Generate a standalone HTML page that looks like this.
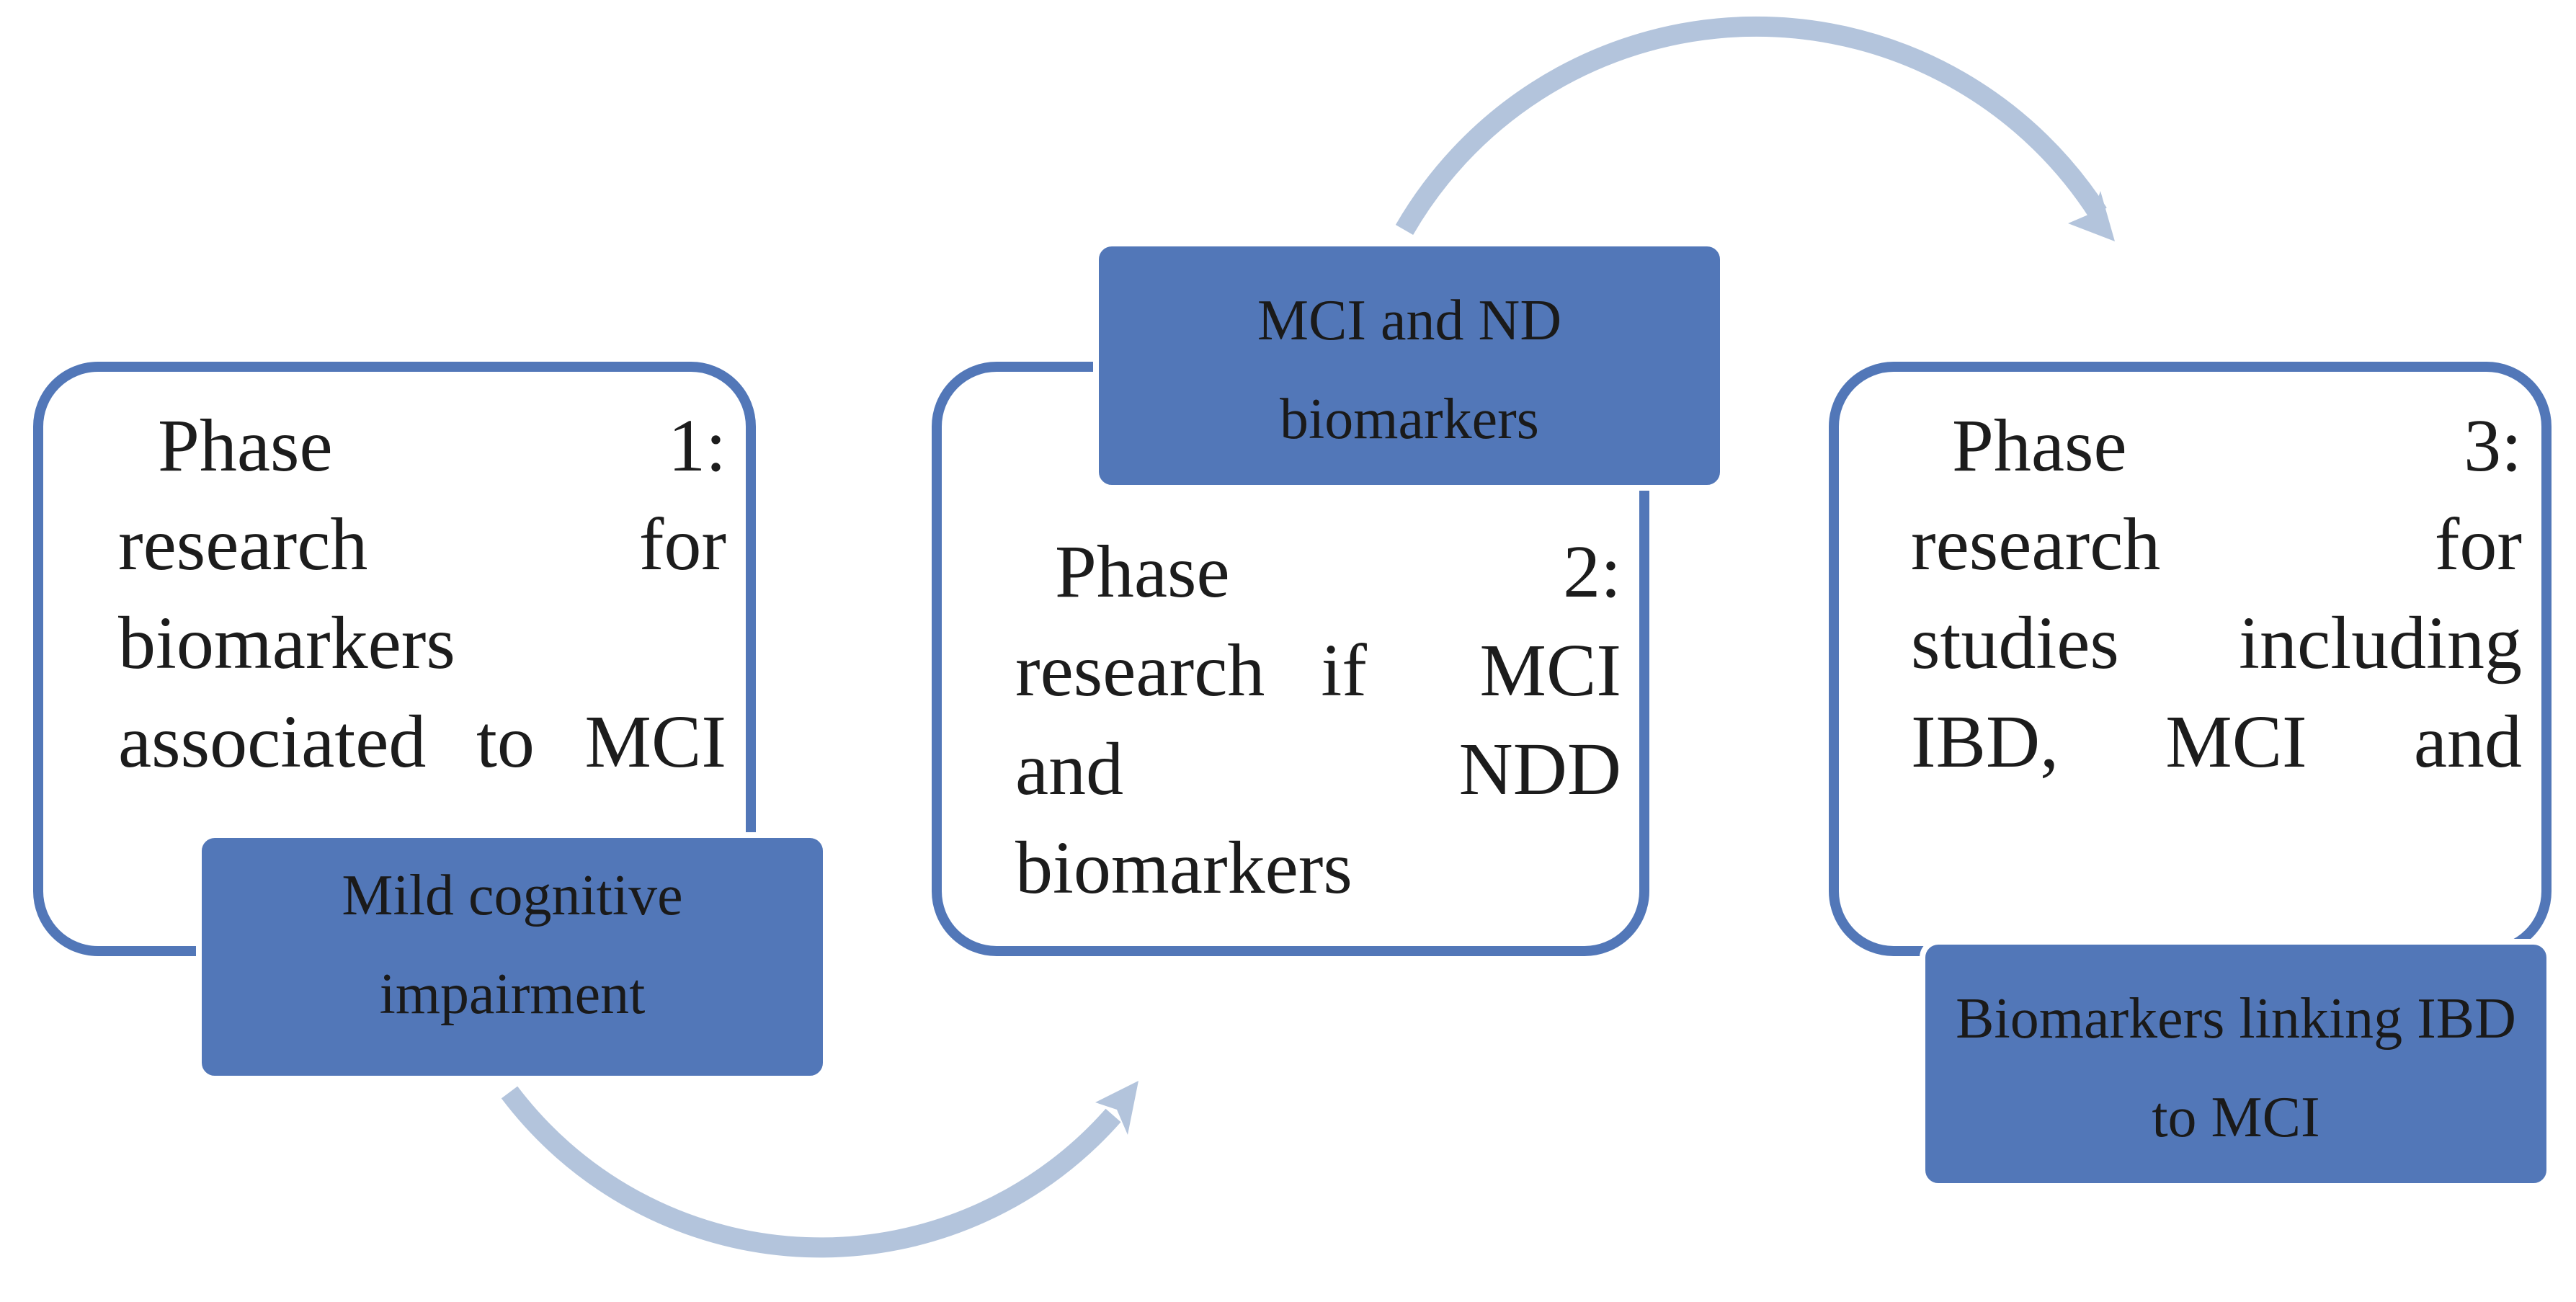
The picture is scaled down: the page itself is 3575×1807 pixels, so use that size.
<!DOCTYPE html>
<html><head><meta charset="utf-8"><style>
body{margin:0;width:3575px;height:1807px;background:#fff;position:relative;overflow:hidden;font-family:"Liberation Serif",serif;color:#1c1c1c}
.o{position:absolute;border:14px solid #5277b8;border-radius:90px;box-sizing:border-box;background:#fff}
.d{position:absolute;background:#5277b8;border:8px solid #fff;border-radius:26px;box-sizing:border-box}
.l{position:absolute;display:flex;justify-content:space-between;font-size:104px;line-height:1;white-space:nowrap}
.c{position:absolute;text-align:center;font-size:80px;line-height:1;white-space:nowrap;color:#1a1a1a}
</style></head><body>
<svg width="3575" height="1807" style="position:absolute;left:0;top:0">
<g fill="none" stroke="#b3c4dc" stroke-width="28">
<path d="M707 1516 A541 541 0 0 0 1545 1548"/>
<path d="M1949 319 A564 564 0 0 1 2912 296"/>
</g>
<polygon fill="#b3c4dc" points="1580,1500 1520,1530 1550,1540 1565,1575"/>
<polygon fill="#b3c4dc" points="2935,335 2870,310 2905,295 2915,265"/>
</svg>
<div class="o" style="left:46px;top:502px;width:1003px;height:825px"></div>
<div class="o" style="left:1293px;top:502px;width:996px;height:825px"></div>
<div class="o" style="left:2538px;top:502px;width:1003px;height:825px"></div>
<div class="d" style="left:272px;top:1155px;width:878px;height:346px"></div>
<div class="d" style="left:1517px;top:334px;width:878px;height:347px"></div>
<div class="d" style="left:2664px;top:1303px;width:878px;height:347px"></div>

<div class="l" style="left:219px;top:567px;width:789px"><span>Phase</span><span>1:</span></div>
<div class="l" style="left:164px;top:704px;width:844px"><span>research</span><span>for</span></div>
<div class="l" style="left:164px;top:841px;width:844px"><span>biomarkers</span></div>
<div class="l" style="left:164px;top:978px;width:844px"><span>associated</span><span>to</span><span>MCI</span></div>

<div class="l" style="left:1464px;top:742px;width:786px"><span>Phase</span><span>2:</span></div>
<div class="l" style="left:1409px;top:879px;width:841px"><span>research&nbsp;&nbsp;&nbsp;if</span><span>MCI</span></div>
<div class="l" style="left:1409px;top:1016px;width:841px"><span>and</span><span>NDD</span></div>
<div class="l" style="left:1409px;top:1153px;width:841px"><span>biomarkers</span></div>

<div class="l" style="left:2709px;top:567px;width:791px"><span>Phase</span><span>3:</span></div>
<div class="l" style="left:2652px;top:704px;width:848px"><span>research</span><span>for</span></div>
<div class="l" style="left:2652px;top:841px;width:848px"><span>studies</span><span>including</span></div>
<div class="l" style="left:2652px;top:978px;width:848px"><span>IBD,</span><span>MCI</span><span>and</span></div>

<div class="c" style="left:280px;top:1203px;width:862px">Mild cognitive</div>
<div class="c" style="left:280px;top:1340px;width:862px">impairment</div>
<div class="c" style="left:1525px;top:405px;width:862px">MCI and ND</div>
<div class="c" style="left:1525px;top:542px;width:862px">biomarkers</div>
<div class="c" style="left:2672px;top:1374px;width:862px">Biomarkers linking IBD</div>
<div class="c" style="left:2672px;top:1511px;width:862px">to MCI</div>
</body></html>
